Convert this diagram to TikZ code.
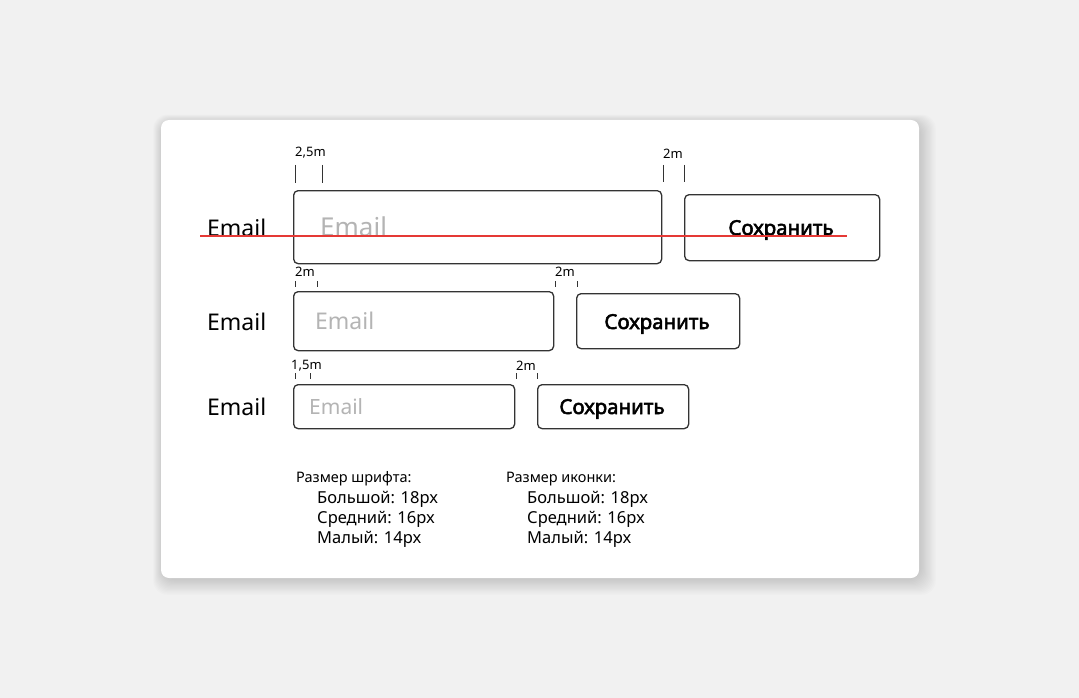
\documentclass[tikz,border=0pt]{standalone}
\usepackage{fontspec}
\setmainfont{Noto Sans}
\newfontfamily\btnfont{Noto Sans}[FakeBold=2.6]
\definecolor{bggray}{HTML}{F1F1F1}
\definecolor{boxline}{HTML}{333333}
\definecolor{phgray}{HTML}{B4B4B4}
\definecolor{redline}{HTML}{E53935}
\begin{document}
\begin{tikzpicture}[x=1pt,y=-1pt,
  card/.style={fill=white, rounded corners=8pt},
  shadowlayer/.style={fill=black, fill opacity=0.012, rounded corners=14pt},
  fieldbox/.style={draw=boxline, line width=1.3pt, rounded corners=4.5pt, anchor=north west, inner sep=0pt, fill=white},
  lbl/.style={anchor=base west, inner sep=0pt, text=black},
  ph/.style={anchor=base west, inner sep=0pt, text=phgray},
  btntext/.style={anchor=base, inner sep=0pt, font=\btnfont\fontsize{20.5}{24}\selectfont},
  ticklbl/.style={anchor=base west, inner sep=0pt, font=\fontsize{13}{15}\selectfont},
  tickbig/.style={draw=boxline, line width=1pt},
  ticksmall/.style={draw=boxline, line width=0.9pt},
  legend/.style={anchor=base west, inner sep=0pt, font=\fontsize{14.5}{16}\selectfont},
  legenditem/.style={anchor=base west, inner sep=0pt, font=\fontsize{16.5}{18}\selectfont}
]
\useasboundingbox (0,0) rectangle (1079,698);
\fill[bggray] (0,0) rectangle (1079,698);
% soft shadow
\foreach \d in {1,2,...,14} {
  \path[shadowlayer] (161+2-\d*0.7,120+3-\d*0.6) rectangle (919+\d*1.2,578+\d*1.2);
}
\path[card] (161,120) rectangle (919,578);

% Row 1
\node[lbl, font=\fontsize{23}{26}\selectfont] (l1) at (207,236) {Email};
\node[fieldbox, minimum width=368pt, minimum height=73pt] (f1) at (293,190) {};
\node[ph, font=\fontsize{26}{30}\selectfont] (p1) at (320,236) {Email};
\node[fieldbox, minimum width=195pt, minimum height=66pt] (b1) at (684,194) {};
\node[btntext] (t1) at (781,235) {Сохранить};
\coordinate (r1a) at (200,236);
\coordinate (r1b) at (847,236);
\draw[redline, line width=1.1pt] (r1a) -- (r1b);
\node[ticklbl] (k1a) at (295,157) {2,5m};
\node[ticklbl] (k1b) at (663,159) {2m};
\draw[tickbig] (295,165) -- (295,183);
\draw[tickbig] (322,165) -- (322,183);
\draw[tickbig] (663,165) -- (663,182);
\draw[tickbig] (684,165) -- (684,182);

% Row 2
\node[lbl, font=\fontsize{23}{26}\selectfont] (l2) at (207,330) {Email};
\node[fieldbox, minimum width=260pt, minimum height=59pt] (f2) at (293,291) {};
\node[ph, font=\fontsize{23}{26}\selectfont] (p2) at (315,329) {Email};
\node[fieldbox, minimum width=163pt, minimum height=55pt] (b2) at (576,293) {};
\node[btntext] (t2) at (657,329) {Сохранить};
\node[ticklbl] (k2a) at (295,276) {2m};
\node[ticklbl] (k2b) at (555,276) {2m};
\draw[ticksmall] (295,281) -- (295,287);
\draw[ticksmall] (317,281) -- (317,287);
\draw[ticksmall] (555,281) -- (555,287);
\draw[ticksmall] (577,281) -- (577,287);

% Row 3
\node[lbl, font=\fontsize{23}{26}\selectfont] (l3) at (207,415) {Email};
\node[fieldbox, minimum width=221pt, minimum height=44pt] (f3) at (293,384) {};
\node[ph, font=\fontsize{21}{24}\selectfont] (p3) at (309,414) {Email};
\node[fieldbox, minimum width=151pt, minimum height=44pt] (b3) at (537,384) {};
\node[btntext] (t3) at (612,414) {Сохранить};
\node[ticklbl] (k3a) at (291,369) {1,5m};
\node[ticklbl] (k3b) at (516,370) {2m};
\draw[ticksmall] (295,373) -- (295,379);
\draw[ticksmall] (310,373) -- (310,379);
\draw[ticksmall] (516,373) -- (516,379);
\draw[ticksmall] (537,373) -- (537,379);

% Legend
\node[legend] (g1) at (296,482) {Размер шрифта:};
\node[legenditem] (g1a) at (317,503) {Большой: 18px};
\node[legenditem] (g1b) at (317,523) {Средний: 16px};
\node[legenditem] (g1c) at (317,543) {Малый: 14px};
\node[legend] (g2) at (506,482) {Размер иконки:};
\node[legenditem] (g2a) at (527,503) {Большой: 18px};
\node[legenditem] (g2b) at (527,523) {Средний: 16px};
\node[legenditem] (g2c) at (527,543) {Малый: 14px};
\end{tikzpicture}
\end{document}
